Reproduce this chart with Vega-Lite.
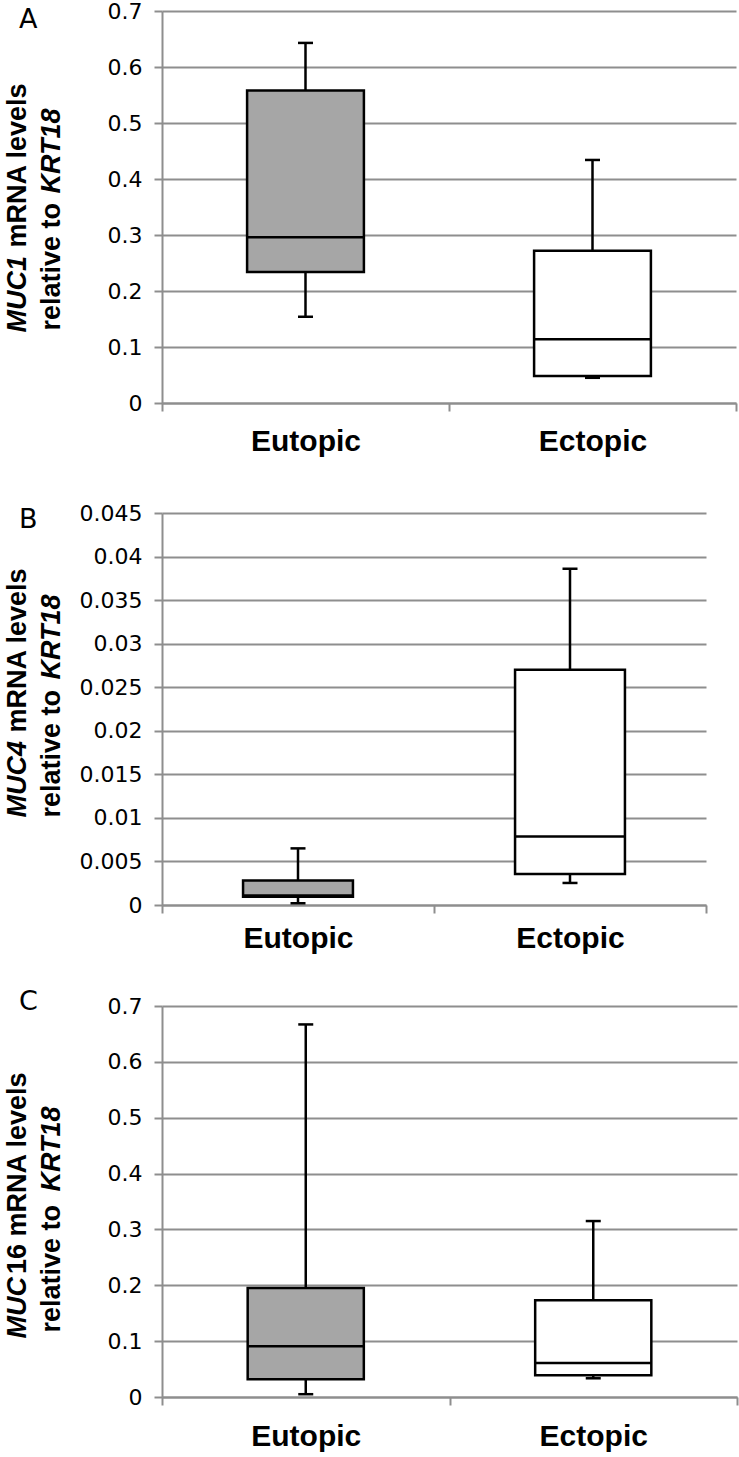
{
  "$schema": "https://vega.github.io/schema/vega-lite/v6.json",
  "background": "white",
  "padding": {"left": 3, "top": 0, "right": 2, "bottom": 2},
  "config": {
    "view": {"stroke": null},
    "axis": {
      "gridColor": "#8e8e8e", "gridWidth": 2,
      "domainColor": "#8e8e8e", "domainWidth": 2,
      "tickColor": "#8e8e8e", "tickWidth": 2, "tickSize": 8,
      "labelColor": "black", "titleColor": "black"
    },
    "axisX": {
      "grid": false, "labelFont": "Liberation Sans", "labelFontWeight": "bold",
      "labelFontSize": 30, "labelAngle": 0, "tickBand": "extent", "title": null
    },
    "axisY": {
      "labelFont": "DejaVu Sans", "labelFontSize": 22, "labelPadding": 12,
      "titleFont": "Liberation Sans", "titleFontWeight": "bold", "titleFontSize": 27,
      "titleAngle": 270, "titleBaseline": "top", "titleX": -158, "format": "~g"
    },
    "tick": {"opacity": 1},
    "title": {
      "anchor": "start", "frame": "group", "font": "DejaVu Sans", "fontSize": 27,
      "fontWeight": "normal", "color": "black", "offset": 0, "baseline": "alphabetic", "dx": -143
    }
  },
  "bounds": "flush",
  "spacing": 110,
  "vconcat": [
    {
      "width": 574, "height": 392,
      "title": {"text": "A", "dy": 38},
      "data": {"values": [
        {"group": "Eutopic", "min": 0.154, "q1": 0.234, "median": 0.296, "q3": 0.558, "max": 0.643},
        {"group": "Ectopic", "min": 0.045, "q1": 0.048, "median": 0.114, "q3": 0.272, "max": 0.434}
      ]},
      "encoding": {
        "x": {"field": "group", "type": "nominal", "sort": ["Eutopic", "Ectopic"],
              "scale": {"paddingInner": 0, "paddingOuter": 0},
              "axis": {"labelPadding": 15}}
      },
      "resolve": {"axis": {"y": "independent"}},
      "layer": [
        {"mark": {"type": "rule", "color": "black", "strokeWidth": 2.5},
         "encoding": {"y": {"field": "min", "type": "quantitative", "scale": {"domain": [0, 0.7], "nice": false},
                            "axis": {"orient": "left", "values": [0, 0.1, 0.2, 0.3, 0.4, 0.5, 0.6, 0.7], "title": "mRNA levels", "titleAlign": "right", "titleY": 72}},
                      "y2": {"field": "max"}}},
        {"mark": {"type": "bar", "width": {"band": 0.407}, "stroke": "black", "strokeWidth": 2.5},
         "encoding": {"y": {"field": "q1", "type": "quantitative",
                            "axis": {"orient": "left", "labels": false, "ticks": false, "domain": false, "grid": false, "titleFontStyle": "italic", "title": "MUC1", "titleAlign": "left", "titleY": 321}},
                      "y2": {"field": "q3"},
                      "fill": {"field": "group", "type": "nominal", "scale": {"domain": ["Eutopic", "Ectopic"], "range": ["#a6a6a6", "#ffffff"]}, "legend": null}}},
        {"mark": {"type": "tick", "color": "black", "size": 117, "thickness": 2.5, "opacity": 1},
         "encoding": {"y": {"field": "median", "type": "quantitative",
                            "axis": {"orient": "left", "labels": false, "ticks": false, "domain": false, "grid": false, "title": "relative to", "titleAlign": "left", "titleX": -124, "titleY": 319}}}},
        {"mark": {"type": "tick", "color": "black", "size": 15, "thickness": 2.5, "opacity": 1},
         "encoding": {"y": {"field": "max", "type": "quantitative",
                            "axis": {"orient": "left", "labels": false, "ticks": false, "domain": false, "grid": false, "titleFontStyle": "italic", "title": "KRT18", "titleAlign": "right", "titleX": -124, "titleY": 97}}}},
        {"mark": {"type": "tick", "color": "black", "size": 15, "thickness": 2.5, "opacity": 1},
         "encoding": {"y": {"field": "min", "type": "quantitative", "axis": null}}}
      ]
    },
    {
      "bounds": "flush",
      "spacing": 101,
      "vconcat": [
        {
          "width": 544, "height": 392,
          "title": {"text": "B", "dy": 36},
          "data": {"values": [
            {"group": "Eutopic", "min": 0.0002, "q1": 0.00095, "median": 0.0011, "q3": 0.0028, "max": 0.0065},
            {"group": "Ectopic", "min": 0.00253, "q1": 0.00356, "median": 0.00785, "q3": 0.027, "max": 0.0386}
          ]},
          "encoding": {
            "x": {"field": "group", "type": "nominal", "sort": ["Eutopic", "Ectopic"],
                  "scale": {"paddingInner": 0, "paddingOuter": 0},
                  "axis": {"labelPadding": 10}}
          },
          "resolve": {"axis": {"y": "independent"}},
          "layer": [
            {"mark": {"type": "rule", "color": "black", "strokeWidth": 2.5},
             "encoding": {"y": {"field": "min", "type": "quantitative", "scale": {"domain": [0, 0.045], "nice": false},
                                "axis": {"orient": "left", "values": [0, 0.005, 0.01, 0.015, 0.02, 0.025, 0.03, 0.035, 0.04, 0.045], "title": "mRNA levels", "titleAlign": "right", "titleY": 55}},
                          "y2": {"field": "max"}}},
            {"mark": {"type": "bar", "width": {"band": 0.404}, "stroke": "black", "strokeWidth": 2.5},
             "encoding": {"y": {"field": "q1", "type": "quantitative",
                                "axis": {"orient": "left", "labels": false, "ticks": false, "domain": false, "grid": false, "titleFontStyle": "italic", "title": "MUC4", "titleAlign": "left", "titleY": 304}},
                          "y2": {"field": "q3"},
                          "fill": {"field": "group", "type": "nominal", "scale": {"domain": ["Eutopic", "Ectopic"], "range": ["#a6a6a6", "#ffffff"]}, "legend": null}}},
            {"mark": {"type": "tick", "color": "black", "size": 110, "thickness": 2.5, "opacity": 1},
             "encoding": {"y": {"field": "median", "type": "quantitative",
                                "axis": {"orient": "left", "labels": false, "ticks": false, "domain": false, "grid": false, "title": "relative to", "titleAlign": "left", "titleX": -124, "titleY": 304}}}},
            {"mark": {"type": "tick", "color": "black", "size": 15, "thickness": 2.5, "opacity": 1},
             "encoding": {"y": {"field": "max", "type": "quantitative",
                                "axis": {"orient": "left", "labels": false, "ticks": false, "domain": false, "grid": false, "titleFontStyle": "italic", "title": "KRT18", "titleAlign": "right", "titleX": -124, "titleY": 81}}}},
            {"mark": {"type": "tick", "color": "black", "size": 15, "thickness": 2.5, "opacity": 1},
             "encoding": {"y": {"field": "min", "type": "quantitative", "axis": null}}}
          ]
        },
        {
          "width": 575, "height": 391,
          "title": {"text": "C", "dy": 25},
          "data": {"values": [
            {"group": "Eutopic", "min": 0.005, "q1": 0.032, "median": 0.091, "q3": 0.195, "max": 0.667},
            {"group": "Ectopic", "min": 0.0335, "q1": 0.039, "median": 0.061, "q3": 0.173, "max": 0.315}
          ]},
          "encoding": {
            "x": {"field": "group", "type": "nominal", "sort": ["Eutopic", "Ectopic"],
                  "scale": {"paddingInner": 0, "paddingOuter": 0},
                  "axis": {"labelPadding": 16}}
          },
          "resolve": {"axis": {"y": "independent"}},
          "layer": [
            {"mark": {"type": "rule", "color": "black", "strokeWidth": 2.5},
             "encoding": {"y": {"field": "min", "type": "quantitative", "scale": {"domain": [0, 0.7], "nice": false},
                                "axis": {"orient": "left", "values": [0, 0.1, 0.2, 0.3, 0.4, 0.5, 0.6, 0.7], "title": "16 mRNA levels", "titleAlign": "right", "titleY": 66}},
                          "y2": {"field": "max"}}},
            {"mark": {"type": "bar", "width": {"band": 0.404}, "stroke": "black", "strokeWidth": 2.5},
             "encoding": {"y": {"field": "q1", "type": "quantitative",
                                "axis": {"orient": "left", "labels": false, "ticks": false, "domain": false, "grid": false, "titleFontStyle": "italic", "title": "MUC", "titleAlign": "left", "titleY": 332}},
                          "y2": {"field": "q3"},
                          "fill": {"field": "group", "type": "nominal", "scale": {"domain": ["Eutopic", "Ectopic"], "range": ["#a6a6a6", "#ffffff"]}, "legend": null}}},
            {"mark": {"type": "tick", "color": "black", "size": 116, "thickness": 2.5, "opacity": 1},
             "encoding": {"y": {"field": "median", "type": "quantitative",
                                "axis": {"orient": "left", "labels": false, "ticks": false, "domain": false, "grid": false, "title": "relative to", "titleAlign": "left", "titleX": -124, "titleY": 326}}}},
            {"mark": {"type": "tick", "color": "black", "size": 15, "thickness": 2.5, "opacity": 1},
             "encoding": {"y": {"field": "max", "type": "quantitative",
                                "axis": {"orient": "left", "labels": false, "ticks": false, "domain": false, "grid": false, "titleFontStyle": "italic", "title": "KRT18", "titleAlign": "right", "titleX": -124, "titleY": 100}}}},
            {"mark": {"type": "tick", "color": "black", "size": 15, "thickness": 2.5, "opacity": 1},
             "encoding": {"y": {"field": "min", "type": "quantitative", "axis": null}}}
          ]
        }
      ]
    }
  ]
}
